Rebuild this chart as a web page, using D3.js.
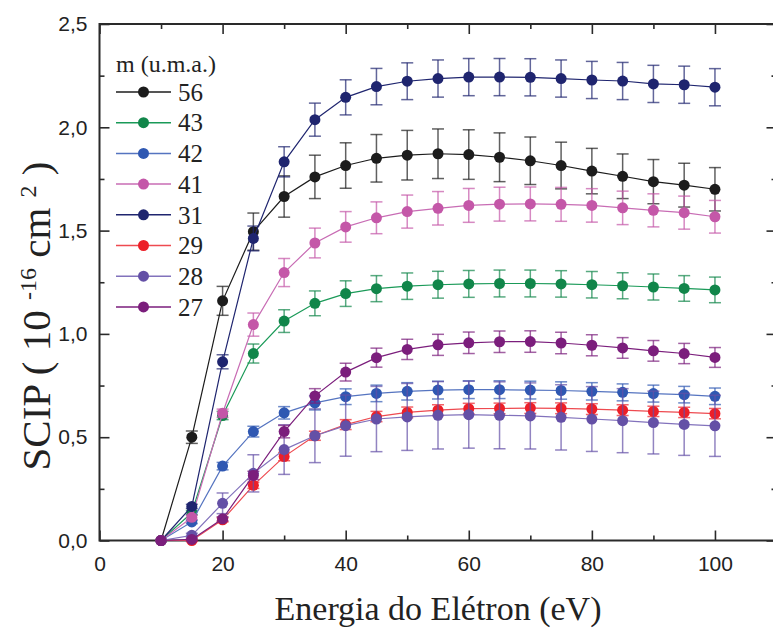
<!DOCTYPE html>
<html>
<head>
<meta charset="utf-8">
<script src="https://cdn.jsdelivr.net/npm/d3@7"></script>
<style>
  text.serif, text.serif tspan { font-family: "Liberation Serif"; }
  text.sans { font-family: "Liberation Sans"; }
</style>
</head>
<body style="margin:0">
<svg id="chart" width="773" height="630"></svg>
<script>
// ---------------- data ----------------
const energies = [10, 15, 20, 25, 30, 35, 40, 45, 50, 55, 60, 65, 70, 75, 80, 85, 90, 95, 100];

const seriesNames = ["56", "43", "42", "41", "31", "29", "28", "27"];

const s56 = [0, 0.50, 1.16, 1.495, 1.665, 1.76, 1.815, 1.85, 1.865, 1.872, 1.868, 1.855, 1.838, 1.815, 1.788, 1.763, 1.737, 1.72, 1.70];
const e56 = [0, 0.03, 0.07, 0.09, 0.10, 0.105, 0.11, 0.115, 0.12, 0.12, 0.12, 0.118, 0.115, 0.113, 0.11, 0.108, 0.107, 0.106, 0.105];

const s43 = [0, 0.135, 0.605, 0.905, 1.062, 1.148, 1.195, 1.219, 1.231, 1.238, 1.242, 1.244, 1.244, 1.242, 1.238, 1.233, 1.227, 1.22, 1.213];
const e43 = [0, 0.01, 0.02, 0.046, 0.055, 0.06, 0.062, 0.063, 0.064, 0.065, 0.065, 0.065, 0.065, 0.064, 0.064, 0.063, 0.063, 0.062, 0.062];

const s42 = [0, 0.09, 0.36, 0.527, 0.618, 0.666, 0.696, 0.712, 0.722, 0.728, 0.73, 0.73, 0.728, 0.726, 0.722, 0.717, 0.711, 0.706, 0.698];
const e42 = [0, 0.008, 0.018, 0.026, 0.03, 0.034, 0.038, 0.04, 0.042, 0.043, 0.043, 0.043, 0.043, 0.042, 0.042, 0.041, 0.041, 0.04, 0.04];

const s41 = [0, 0.112, 0.616, 1.045, 1.297, 1.44, 1.518, 1.562, 1.592, 1.608, 1.622, 1.628, 1.629, 1.627, 1.622, 1.61, 1.598, 1.587, 1.567];
const e41 = [0, 0.01, 0.02, 0.056, 0.068, 0.072, 0.074, 0.077, 0.08, 0.081, 0.082, 0.082, 0.082, 0.082, 0.081, 0.081, 0.08, 0.08, 0.079];

const s31 = [0, 0.165, 0.865, 1.462, 1.833, 2.037, 2.145, 2.197, 2.223, 2.236, 2.243, 2.243, 2.242, 2.236, 2.229, 2.224, 2.21, 2.206, 2.194];
const e31 = [0, 0.01, 0.034, 0.06, 0.073, 0.08, 0.085, 0.088, 0.089, 0.09, 0.09, 0.09, 0.09, 0.09, 0.09, 0.09, 0.09, 0.09, 0.09];

const s29 = [0, 0.0, 0.10, 0.267, 0.406, 0.507, 0.561, 0.6, 0.62, 0.631, 0.638, 0.639, 0.641, 0.64, 0.636, 0.631, 0.625, 0.62, 0.614];
const e29 = [0, 0.005, 0.01, 0.015, 0.02, 0.022, 0.024, 0.025, 0.026, 0.026, 0.026, 0.026, 0.026, 0.026, 0.026, 0.026, 0.025, 0.025, 0.025];

const s28 = [0, 0.025, 0.18, 0.325, 0.44, 0.507, 0.556, 0.588, 0.598, 0.606, 0.609, 0.606, 0.603, 0.596, 0.588, 0.58, 0.571, 0.562, 0.555];
const e28 = [0, 0.01, 0.05, 0.09, 0.12, 0.13, 0.148, 0.158, 0.162, 0.163, 0.162, 0.162, 0.16, 0.158, 0.157, 0.155, 0.152, 0.15, 0.148];

const s27 = [0, 0.005, 0.105, 0.315, 0.527, 0.7, 0.815, 0.885, 0.925, 0.947, 0.957, 0.962, 0.963, 0.956, 0.945, 0.932, 0.918, 0.905, 0.886];
const e27 = [0, 0.005, 0.01, 0.02, 0.03, 0.035, 0.043, 0.046, 0.049, 0.051, 0.052, 0.052, 0.052, 0.052, 0.051, 0.05, 0.05, 0.049, 0.048];

const xMajorTicks = [0, 20, 40, 60, 80, 100];
const xMinorTicks = [10, 30, 50, 70, 90, 110];
const yMajorTicks = [0, 0.5, 1.0, 1.5, 2.0, 2.5];
const yMinorTicks = [0.25, 0.75, 1.25, 1.75, 2.25];

const legendTitle = "m (u.m.a.)";
const xTitle = "Energia do Elétron (eV)";

// ---------------- styles ----------------
const markerColors = {"56": "#1c1c1c", "43": "#11864a", "42": "#2f58b2", "41": "#c457a8", "31": "#1f256f", "29": "#ec1f28", "28": "#6450a6", "27": "#7b1e7c"};
const lineColors   = {"56": "#1c1c1c", "43": "#1a9a58", "42": "#5574c0", "41": "#c86cb4", "31": "#1f256f", "29": "#ee4a50", "28": "#8272bc", "27": "#7b1e7c"};

const values = {"56": s56, "43": s43, "42": s42, "41": s41, "31": s31, "29": s29, "28": s28, "27": s27};
const errors = {"56": e56, "43": e43, "42": e42, "41": e41, "31": e31, "29": e29, "28": e28, "27": e27};

// ---------------- chart ----------------
const svg = d3.select("#chart");
const x = d3.scaleLinear().domain([0, 110]).range([99.5, 776.5]);
const y = d3.scaleLinear().domain([0, 2.5]).range([540.5, 24]);

const axisColor = "#2a2a2a";
const fmtY = v => d3.format(".1f")(v).replace(".", ",");

function styleAxis(g) {
  g.select(".domain").remove();
  g.attr("font-family", null).attr("font-size", null);
  g.selectAll(".tick line").attr("stroke", axisColor).attr("stroke-width", 1.6);
  g.selectAll(".tick text").attr("fill", "#222").attr("class", "sans").style("font-size", "21px");
}

// bottom
svg.append("g").attr("transform", `translate(0,${y(0)})`)
  .call(d3.axisBottom(x).tickValues(xMajorTicks).tickSizeInner(-10).tickSizeOuter(0).tickPadding(16).tickFormat(d3.format("d")))
  .call(styleAxis);
svg.append("g").attr("transform", `translate(0,${y(0)})`)
  .call(d3.axisBottom(x).tickValues(xMinorTicks).tickSizeInner(-5).tickSizeOuter(0).tickFormat(""))
  .call(styleAxis);
// top
svg.append("g").attr("transform", `translate(0,${y(2.5)})`)
  .call(d3.axisTop(x).tickValues(xMajorTicks).tickSizeInner(-10).tickSizeOuter(0).tickFormat(""))
  .call(styleAxis);
svg.append("g").attr("transform", `translate(0,${y(2.5)})`)
  .call(d3.axisTop(x).tickValues(xMinorTicks).tickSizeInner(-5).tickSizeOuter(0).tickFormat(""))
  .call(styleAxis);
// left
svg.append("g").attr("transform", `translate(${x(0)},0)`)
  .call(d3.axisLeft(y).tickValues(yMajorTicks).tickSizeInner(-10).tickSizeOuter(0).tickPadding(12).tickFormat(fmtY))
  .call(styleAxis);
svg.append("g").attr("transform", `translate(${x(0)},0)`)
  .call(d3.axisLeft(y).tickValues(yMinorTicks).tickSizeInner(-5).tickSizeOuter(0).tickFormat(""))
  .call(styleAxis);
// right
svg.append("g").attr("transform", `translate(${x(110)},0)`)
  .call(d3.axisRight(y).tickValues(yMajorTicks).tickSizeInner(-10).tickSizeOuter(0).tickFormat(""))
  .call(styleAxis);
svg.append("g").attr("transform", `translate(${x(110)},0)`)
  .call(d3.axisRight(y).tickValues(yMinorTicks).tickSizeInner(-5).tickSizeOuter(0).tickFormat(""))
  .call(styleAxis);

// frame
svg.append("rect")
  .attr("x", x(0)).attr("y", y(2.5))
  .attr("width", x(110) - x(0)).attr("height", y(0) - y(2.5))
  .attr("fill", "none").attr("stroke", axisColor).attr("stroke-width", 2);

// series
const line = d3.line().x(d => x(d.e)).y(d => y(d.v));
const capHalf = 6;

seriesNames.forEach(name => {
  const pts = energies.map((e, i) => ({e, v: values[name][i], err: errors[name][i]}));
  const g = svg.append("g");

  const eb = g.append("g")
    .attr("stroke", markerColors[name]).attr("stroke-width", 1.5).attr("stroke-opacity", 0.7).attr("fill", "none");
  pts.filter(d => d.err > 0).forEach(d => {
    const cx = x(d.e), top = y(d.v + d.err), bot = y(d.v - d.err);
    eb.append("line").attr("x1", cx).attr("x2", cx).attr("y1", top).attr("y2", bot);
    eb.append("line").attr("x1", cx - capHalf).attr("x2", cx + capHalf).attr("y1", top).attr("y2", top);
    eb.append("line").attr("x1", cx - capHalf).attr("x2", cx + capHalf).attr("y1", bot).attr("y2", bot);
  });

  g.append("path").datum(pts)
    .attr("d", line).attr("fill", "none")
    .attr("stroke", lineColors[name]).attr("stroke-width", 1.2);

  g.selectAll("circle").data(pts).join("circle")
    .attr("cx", d => x(d.e)).attr("cy", d => y(d.v)).attr("r", 5.5)
    .attr("fill", markerColors[name]);
});

// legend
const legend = svg.append("g");
legend.append("text").attr("class", "serif").attr("x", 116).attr("y", 72).attr("fill", "#222")
  .style("font-size", "24px")
  .text(legendTitle);
seriesNames.forEach((name, i) => {
  const ly = 92 + i * 30.7;
  legend.append("line").attr("x1", 116).attr("x2", 171).attr("y1", ly).attr("y2", ly)
    .attr("stroke", lineColors[name]).attr("stroke-width", 1.5);
  legend.append("circle").attr("cx", 143.5).attr("cy", ly).attr("r", 5.5).attr("fill", markerColors[name]);
  legend.append("text").attr("class", "serif").attr("x", 178).attr("y", ly).attr("dy", "0.35em").attr("fill", "#222")
    .style("font-size", "25px")
    .text(name);
});

// axis titles
svg.append("text").attr("class", "serif")
  .attr("x", x(55)).attr("y", 620).attr("text-anchor", "middle").attr("fill", "#222")
  .style("font-size", "34px")
  .text(xTitle);

const yt = svg.append("text").attr("class", "serif")
  .attr("transform", "translate(50,316) rotate(-90)")
  .attr("text-anchor", "middle").attr("fill", "#222")
  .style("font-size", "41px");
yt.append("tspan").text("SCIP ( 10 ");
yt.append("tspan").attr("dy", -14).style("font-size", "24px").text("-16");
yt.append("tspan").attr("dy", 14).text(" cm ");
yt.append("tspan").attr("dy", -14).style("font-size", "24px").text("2");
yt.append("tspan").attr("dy", 14).text(" )");
</script>
</body>
</html>
